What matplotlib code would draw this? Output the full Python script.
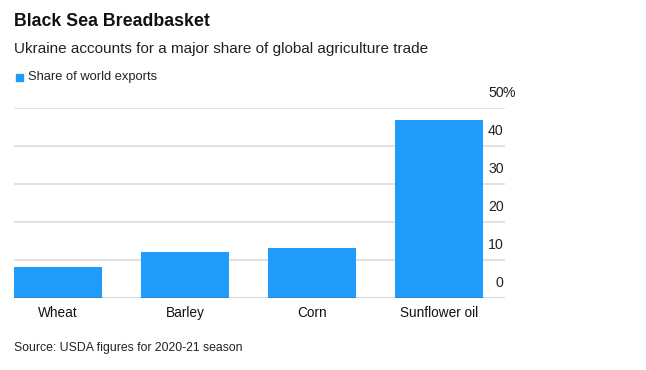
import matplotlib.pyplot as plt

plt.rcParams['font.family'] = ['Liberation Sans', 'DejaVu Sans']

categories = ["Wheat", "Barley", "Corn", "Sunflower oil"]
share = [8.2, 12.1, 13.2, 46.8]
yticks = [0, 10, 20, 30, 40, 50]

BLUE = '#1f9cfb'
W, H = 646, 370

fig = plt.figure(figsize=(W / 100, H / 100), dpi=100)
ax = fig.add_axes([14 / W, 72 / H, 491 / W, 190 / H])

ax.bar(range(len(categories)), share, width=0.693, color=BLUE, zorder=2)
ax.set_xlim(-0.3465, 3.52)
ax.set_ylim(0, 50)

for t in yticks:
    ax.axhline(t, color='#dcdcdc' if t else '#333333', lw=1.2 if t else 1.0, zorder=1 if t else 3)
    ax.annotate(str(t), xy=(1, t), xycoords=('axes fraction', 'data'),
                xytext=(-1, 6), textcoords='offset points', ha='right', va='bottom',
                fontsize=10.2, color='#222222')
    if t == 50:
        ax.annotate('%', xy=(1, t), xycoords=('axes fraction', 'data'),
                    xytext=(-1.5, 6), textcoords='offset points', ha='left', va='bottom',
                    fontsize=10.2, color='#222222')

ax.set_yticks([])
ax.set_xticks(range(len(categories)))
ax.set_xticklabels(categories, fontsize=9.8, color='#111111')
ax.tick_params(axis='x', length=0, pad=6)
for s in ax.spines.values():
    s.set_visible(False)

fig.text(14 / W, 1 - 21 / H, "Black Sea Breadbasket", fontsize=12.8, fontweight='bold',
         va='center', ha='left', color='#111111')
fig.text(14 / W, 1 - 49 / H, "Ukraine accounts for a major share of global agriculture trade",
         fontsize=11, va='center', ha='left', color='#222222')
fig.patches.append(plt.Rectangle((16 / W, 1 - 81 / H), 7 / W, 7 / H, transform=fig.transFigure,
                                 color=BLUE, figure=fig))
fig.text(28 / W, 1 - 77 / H, "Share of world exports", fontsize=9.3, va='center', ha='left',
         color='#222222')
fig.text(14 / W, 1 - 348 / H, "Source: USDA figures for 2020-21 season", fontsize=8.8,
         va='center', ha='left', color='#222222')

fig.savefig('out.png', dpi=100)
